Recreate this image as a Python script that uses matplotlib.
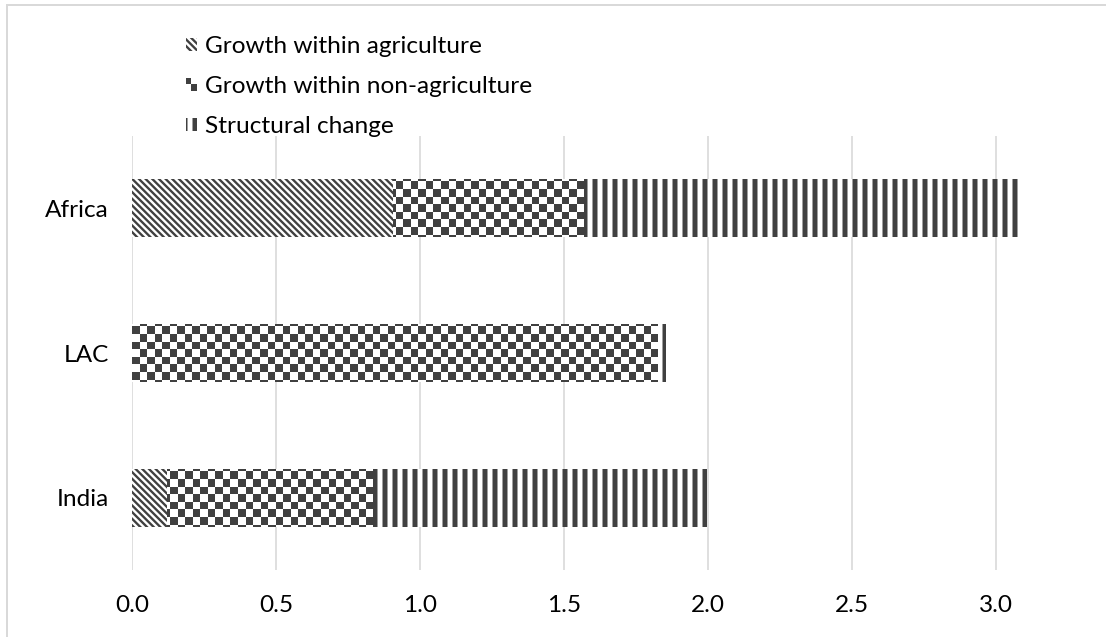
"""
Decomposition of growth: within agriculture, within non-agriculture, structural change
"""  # -*- coding: utf-8 -*-
import numpy as np
import matplotlib
matplotlib.use('Agg')
import matplotlib.pyplot as plt
from matplotlib.patches import Rectangle, Patch
from matplotlib.legend_handler import HandlerBase
from matplotlib.colors import ListedColormap

REGIONS = ['India', 'LAC', 'Africa']
AGRI = [0.12, 0.0, 0.905]
NON_AGRI = [0.713, 1.825, 0.66]
STRUCTURAL = [1.165, 0.028, 1.523]
SERIES = ['Growth within agriculture', 'Growth within non-agriculture', 'Structural change']
XTICKS = [0.0, 0.5, 1.0, 1.5, 2.0, 2.5, 3.0]

DARK = '#404040'
GRID = '#d9d9d9'
DPI = 120
FS = 14.6

plt.rcParams['font.family'] = ['Lato', 'DejaVu Sans']
plt.rcParams['font.size'] = FS


def hatch_lw(patches, lw):
    for p in patches:
        if hasattr(p, 'set_hatch_linewidth'):
            p.set_hatch_linewidth(lw)


class CheckerHandler(HandlerBase):
    """small two-square checker icon for the legend"""
    def create_artists(self, legend, orig_handle, xdescent, ydescent,
                       width, height, fontsize, trans):
        w, h = width / 2., height / 2.
        r1 = Rectangle((-xdescent, -ydescent + h), w, h, facecolor=DARK,
                       edgecolor='none', transform=trans)
        r2 = Rectangle((-xdescent + w, -ydescent), w, h, facecolor=DARK,
                       edgecolor='none', transform=trans)
        return [r1, r2]


class HatchHandler(HandlerBase):
    """hatched square icon with its own hatch line width"""
    def __init__(self, hatch, lw):
        super().__init__()
        self.hatch = hatch
        self.lw = lw

    def create_artists(self, legend, orig_handle, xdescent, ydescent,
                       width, height, fontsize, trans):
        plt.rcParams['hatch.linewidth'] = self.lw
        r = Rectangle((-xdescent, -ydescent), width, height, facecolor='white',
                      edgecolor=DARK, linewidth=0, hatch=self.hatch, transform=trans)
        hatch_lw([r], self.lw)
        return [r]


FIG = plt.figure(figsize=(1106 / DPI, 637 / DPI), dpi=DPI)
AX = FIG.add_axes([132 / 1106, 67 / 637, 3.5 * 288 / 1106, 434 / 637])

Y = np.arange(len(REGIONS))
H = 0.4
agri = np.array(AGRI)
nonag = np.array(NON_AGRI)
struct = np.array(STRUCTURAL)

DIAG = '\\' * 6
plt.rcParams['hatch.linewidth'] = 1.4
B1 = AX.barh(Y, agri, H, color='white', edgecolor=DARK, linewidth=0,
             hatch=DIAG, zorder=2)
hatch_lw(B1, 1.4)

B2 = AX.barh(Y, nonag, H, left=agri, color='white', linewidth=0, zorder=2)

plt.rcParams['hatch.linewidth'] = 3.0
B3 = AX.barh(Y, struct, H, left=agri + nonag, color='white', edgecolor=DARK,
             linewidth=0, hatch='||', zorder=2)
hatch_lw(B3, 3.0)

# checker texture for the non-agriculture bars, clipped to each bar
XLIM = (0, 3.5)
YLIM = (-0.5, 2.5)
NX, NY = int(3.5 * 288 / 7.5), int(434 / 7.5)
II, JJ = np.indices((NY, NX))
CHECK = (II + JJ) % 2
CMAP = ListedColormap(['white', DARK])
for bar in B2:
    im = AX.imshow(CHECK, cmap=CMAP, extent=(XLIM[0], XLIM[1], YLIM[0], YLIM[1]),
                   interpolation='nearest', aspect='auto', origin='lower', zorder=3)
    im.set_clip_path(bar)

AX.set_xlim(*XLIM)
AX.set_ylim(*YLIM)
AX.set_yticks(Y)
AX.set_yticklabels(REGIONS)
AX.set_xticks(XTICKS)
AX.set_xticklabels(['%.1f' % x for x in XTICKS])
AX.tick_params(axis='both', length=0, labelsize=FS, colors='black')
AX.tick_params(axis='y', pad=14)
AX.tick_params(axis='x', pad=15)
AX.grid(axis='x', color=GRID, linewidth=1.0, zorder=0)
AX.set_axisbelow(True)
for s in AX.spines.values():
    s.set_visible(False)

H1 = Patch(facecolor='white', edgecolor=DARK)
H2 = Patch(facecolor='white', edgecolor=DARK)
H3 = Patch(facecolor='white', edgecolor=DARK)
LEG = FIG.legend([H1, H2, H3], SERIES,
                 handler_map={H1: HatchHandler(DIAG, 1.4),
                              H2: CheckerHandler(),
                              H3: HatchHandler('||', 3.0)},
                 loc='upper left', bbox_to_anchor=(186 / 1106, 1 - 36 / 637),
                 frameon=False, borderpad=0, borderaxespad=0,
                 handlelength=0.45, handleheight=0.45, handletextpad=0.33,
                 labelspacing=0.78, fontsize=FS)

# outer chart border (cropped at right and bottom)
FIG.patches.append(Rectangle((7 / 1106, -0.1), 1.2, 1.1 - 5 / 637, fill=False,
                             edgecolor=GRID, linewidth=1.2,
                             transform=FIG.transFigure, figure=FIG))

FIG.savefig('out.png', dpi=DPI)
